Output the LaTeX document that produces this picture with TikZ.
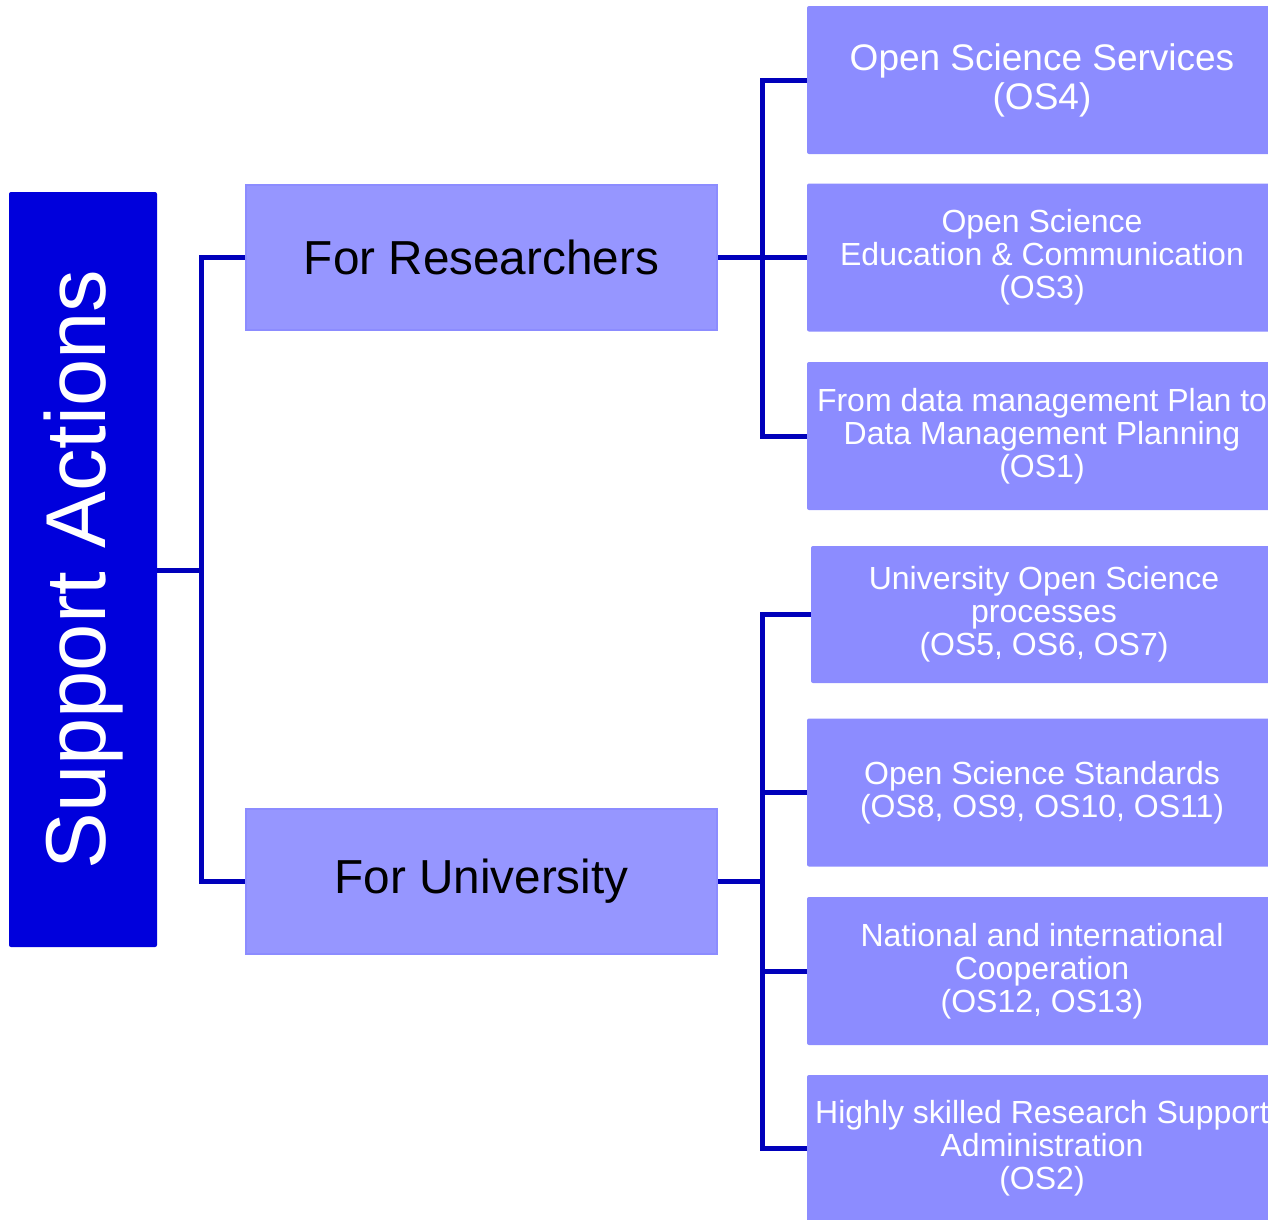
\documentclass[tikz,border=0pt]{standalone}
\usepackage{fontspec}
\setmainfont{Liberation Sans}
\definecolor{headblue}{RGB}{0,0,220}
\definecolor{linkblue}{RGB}{0,0,187}
\definecolor{groupfill}{RGB}{150,150,255}
\definecolor{itemfill}{RGB}{140,140,255}

\begin{document}
\begin{tikzpicture}[x=1pt, y=-1pt,
    headbox/.style={rectangle, rounded corners=2pt, fill=headblue, minimum width=148pt, minimum height=755pt, inner sep=0pt},
    grouptext/.style={rectangle, draw=itemfill, line width=2pt, fill=groupfill, minimum width=471pt, minimum height=145pt, inner sep=0pt, font=\fontsize{47.7}{50}\selectfont},
    itemtext/.style={rectangle, rounded corners=2pt, fill=itemfill, text=white, minimum width=470pt, minimum height=148pt, inner sep=0pt, align=center, font=\fontsize{32}{33}\selectfont},
    link/.style={draw=linkblue, line width=5pt}]
    \useasboundingbox (0,0) rectangle (1268,1219);
    \clip (0,0) rectangle (1268,1219);

    % left column
    \node[headbox] (sa) at (83, 569.5) {};
    \node[rotate=90, text=white, font=\fontsize{85}{90}\selectfont] (satext) at (84, 569.5) {Support Actions};

    % middle column
    \node[grouptext] (res) at (481.5, 257.5) {For Researchers};
    \node[grouptext] (uni) at (481.5, 881.5) {For University};

    % right column
    \node[itemtext, font=\fontsize{37}{39}\selectfont] (os4) at (1042, 80) {Open Science Services\\(OS4)};
    \node[itemtext] (os3) at (1042, 257.5) {Open Science\\Education \& Communication\\(OS3)};
    \node[itemtext] (os1) at (1042, 436) {From data management Plan to\\Data Management Planning\\(OS1)};
    \node[itemtext, minimum width=466pt, minimum height=137pt] (os57) at (1044, 614.5) {University Open Science\\processes\\(OS5, OS6, OS7)};
    \node[itemtext] (os811) at (1042, 792.5) {Open Science Standards\\(OS8, OS9, OS10, OS11)};
    \node[itemtext] (os1213) at (1042, 971) {National and international\\Cooperation\\(OS12, OS13)};
    \node[itemtext, minimum height=147pt] (os2) at (1042, 1148.5) {Highly skilled Research Support\\Administration\\(OS2)};

    % connectors
    \coordinate (trunkA) at (201, 570);
    \coordinate (trunkB) at (762, 257.5);
    \coordinate (trunkC) at (762, 881.5);
    \draw[link] (sa.east |- trunkA) -- (trunkA);
    \draw[link] (res.west) -| (trunkA) |- (uni.west);
    \draw[link] (res.east) -- (os3.west);
    \draw[link] (os4.west) -| (trunkB) |- (os1.west);
    \draw[link] (uni.east) -- (trunkC);
    \draw[link] (os57.west) -| (trunkC) |- (os2.west);
    \draw[link] (trunkC |- os811.west) -- (os811.west);
    \draw[link] (trunkC |- os1213.west) -- (os1213.west);
\end{tikzpicture}
\end{document}
